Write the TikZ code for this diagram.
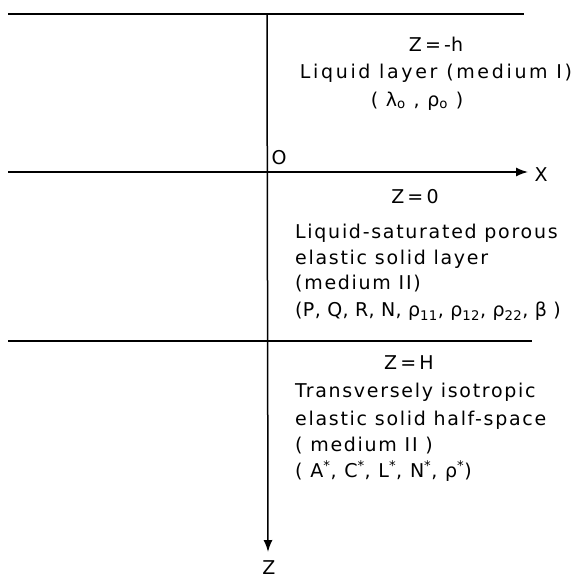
\documentclass[tikz,border=0pt]{standalone}
\usepackage{fontspec}
\setmainfont{DejaVu Sans}[LetterSpace=9]
\usetikzlibrary{arrows.meta}
\newcommand{\lsp}[1]{\addfontfeature{LetterSpace=#1}}
\begin{document}
\begin{tikzpicture}[x=1pt,y=-1pt,
  axis/.style={line width=1.5pt,-{Latex[length=12pt,width=9pt]}},
  bound/.style={line width=1.5pt},
  lbl/.style={font=\fontsize{19}{22}\selectfont,inner sep=0pt},
  lft/.style={lbl,anchor=west}]
\useasboundingbox (0,0) rectangle (575,580);
% coordinates
\coordinate (t1) at (8,14);  \coordinate (t2) at (524,14);
\coordinate (m1) at (8,172); \coordinate (m2) at (528,172);
\coordinate (b1) at (8,341); \coordinate (b2) at (532,341);
\coordinate (v1) at (267,14); \coordinate (v2) at (268,552);
\draw[bound] (t1) -- (t2);
\draw[bound] (b1) -- (b2);
\draw[axis] (m1) -- (m2);
\draw[axis] (v1) -- (v2);
\node[lbl] (X) at (541,175) {X};
\node[lbl] (Z) at (269,568) {Z};
\node[lbl] (O) at (279,158) {O};
\node[lbl] (zh) at (436,44) {\lsp{0}Z\,=\,-h};
\node[lbl] (liq) at (436,73) {\lsp{14}Liquid layer (medium I)};
\node[lbl] (lp) at (417,101) {( λ\textsubscript{o} , ρ\textsubscript{o} )};
\node[lbl] (z0) at (415,197) {\lsp{0}Z\,=\,0};
\node[lft] (p1) at (295,233) {Liquid-saturated porous};
\node[lft] (p2) at (295,259) {elastic solid layer};
\node[lft] (p3) at (295,284) {(medium II)};
\node[lft] (p4) at (295,311) {\lsp{2}(P, Q, R, N, ρ\textsubscript{11}, ρ\textsubscript{12}, ρ\textsubscript{22}, β )};
\node[lbl] (zH) at (409,363) {\lsp{0}Z\,=\,H};
\node[lft] (q1) at (295,392) {Transversely isotropic};
\node[lft] (q2) at (295,420) {elastic solid half-space};
\node[lft] (q3) at (295,446) {( medium II )};
\node[lft] (q4) at (295,471) {( A\textsuperscript{*}, C\textsuperscript{*}, L\textsuperscript{*}, N\textsuperscript{*}, ρ\textsuperscript{*})};
\end{tikzpicture}
\end{document}
